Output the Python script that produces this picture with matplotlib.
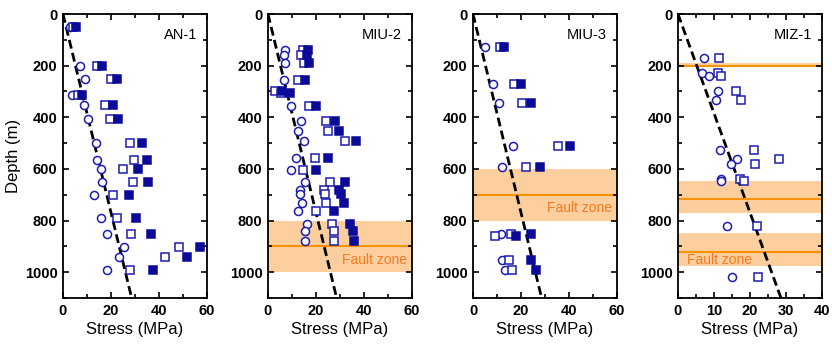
import numpy as np
import matplotlib.pyplot as plt
from matplotlib.ticker import MultipleLocator

plt.rcParams['font.family'] = ['Liberation Sans', 'DejaVu Sans']

nan = np.nan

# ---- AN-1 ----
an1_depth = [50, 200, 250, 312, 352, 405, 500, 564, 600, 652, 701, 792, 852, 901, 942, 992]
an1_circ = [2.8, 6.9, 9.3, 3.7, 8.9, 10.5, 13.7, 14.1, 15.8, 16.2, 13.0, 15.8, 18.3, 25.4, 23.4, 18.3]
an1_open = [4.2, 14.1, 19.9, 6.2, 17.6, 19.4, 27.9, 29.7, 25.2, 29.0, 21.0, 22.7, 28.4, 48.4, 42.6, 27.9]
an1_fill = [5.5, 16.2, 22.4, 7.9, 20.7, 23.1, 32.8, 34.9, 31.1, 35.5, 27.5, 30.4, 36.5, 57.0, 51.7, 37.3]

# ---- MIU-2 ----
miu2_depth = [139, 160, 188, 255, 298, 306, 358, 416, 452, 492, 557, 606, 652, 683, 698, 732, 762,
              812, 839, 879]
miu2_circ = [7.2, 6.7, 6.9, 6.7, nan, nan, 9.6, 13.6, 12.5, 15.0, 11.7, 9.7, 15.3, 13.2, 13.5,
             14.2, 12.4, 16.3, 15.3, 15.6]
miu2_open = [14.5, 13.7, 15.0, 12.5, 3.0, 5.5, 16.9, 24.2, 25.0, 32.2, 19.7, 14.4, 26.0, 23.2,
             23.9, 24.3, 20.1, 26.7, 27.4, 27.4]
miu2_fill = [16.8, 16.2, 17.2, 15.3, 6.0, 9.0, 20.1, 28.1, 29.4, 36.8, 25.0, 20.1, 31.9, 29.7,
             30.6, 31.5, 27.5, 34.3, 35.3, 35.8]

# ---- MIU-3 ----
miu3_depth = [126, 271, 343, 513, 594, 852, 861, 951, 992]
miu3_circ = [5.1, 8.3, 10.7, 16.5, 12.2, 11.8, nan, 12.1, 13.2]
miu3_open = [11.4, 17.2, 20.4, 35.3, 22.1, 16.0, 9.3, 14.9, 16.3]
miu3_fill = [12.8, 20.0, 24.2, 40.6, 27.8, 24.3, 17.9, 24.2, 26.1]

# ---- MIZ-1 ----
miz1_depth = [169, 227, 240, 298, 335, 526, 562, 580, 639, 648, 822, 1019]
miz1_circ = [7.2, 6.8, 8.5, 11.2, 10.5, 11.7, 16.5, 14.7, 12.0, 12.0, 13.6, 15.0]
miz1_open = [11.4, 11.1, 11.9, 16.0, 17.6, 21.2, 28.1, 21.3, 17.1, 18.4, 22.0, 22.3]
miz1_fill = [nan] * len(miz1_depth)

# fault zones: (top, bottom, fault depth)
miu2_faults = [(800, 1000, 900)]
miu3_faults = [(600, 800, 700)]
miz1_faults = [(191, 207, 201), (646, 772, 716), (848, 977, 923)]

names = ['AN-1', 'MIU-2', 'MIU-3', 'MIZ-1']
xmaxes = [60, 60, 60, 40]
sv_gradient = 0.026  # MPa per metre

navy = '#0b0b98'
edge = '#1c1cae'
band = '#fdcf9e'
fault_line = '#f59400'
fault_text = '#f57a22'

panels = [
    (an1_depth, an1_circ, an1_open, an1_fill, [], None),
    (miu2_depth, miu2_circ, miu2_open, miu2_fill, miu2_faults, 'right'),
    (miu3_depth, miu3_circ, miu3_open, miu3_fill, miu3_faults, 'right'),
    (miz1_depth, miz1_circ, miz1_open, miz1_fill, miz1_faults, 'left'),
]

fig = plt.figure(figsize=(8.32, 3.49), dpi=100)
lefts = [63, 268, 473, 678]
W, H = 832, 349

for i, (d, c, o, f, faults, tpos) in enumerate(panels):
    ax = fig.add_axes([lefts[i] / W, 1 - 298 / H, 144 / W, 284 / H])
    xmax = xmaxes[i]

    for top, bot, fd in faults:
        ax.axhspan(top, bot, color=band, lw=0, zorder=0)
        ax.axhline(fd, color=fault_line, lw=1.5, zorder=1)
    if faults:
        top, bot, fd = faults[-1]
        ty = (fd + bot) / 2 + 2
        if tpos == 'right':
            ax.text(xmax * 0.965, ty, 'Fault zone', color=fault_text, fontsize=10,
                    ha='right', va='center', zorder=2)
        else:
            ax.text(xmax * 0.06, ty, 'Fault zone', color=fault_text, fontsize=10,
                    ha='left', va='center', zorder=2)

    dd = np.array([0, 1100])
    ax.plot(sv_gradient * dd, dd, color='black', lw=2.0, ls=(0, (3.2, 1.6)), zorder=3)

    ax.plot(c, d, 'o', ms=5.8, mfc='white', mec=edge, mew=1.1, ls='none', zorder=4)
    ax.plot(o, d, 's', ms=5.8, mfc='white', mec=edge, mew=1.1, ls='none', zorder=5)
    ax.plot(f, d, 's', ms=5.8, mfc=navy, mec=navy, mew=1.1, ls='none', zorder=6)

    ax.set_xlim(0, xmax)
    ax.set_ylim(1100, 0)
    if xmax == 60:
        ax.xaxis.set_major_locator(MultipleLocator(20))
        ax.xaxis.set_minor_locator(MultipleLocator(10))
    else:
        ax.xaxis.set_major_locator(MultipleLocator(10))
        ax.xaxis.set_minor_locator(MultipleLocator(5))
    ax.yaxis.set_major_locator(MultipleLocator(200))
    ax.yaxis.set_minor_locator(MultipleLocator(100))
    ax.set_yticks([0, 200, 400, 600, 800, 1000])
    ax.tick_params(which='both', direction='in', top=True, right=True, width=1.2)
    ax.tick_params(which='major', length=4.5, labelsize=10.5, pad=4)
    ax.tick_params(which='minor', length=3)
    for lab in ax.get_xticklabels() + ax.get_yticklabels():
        lab.set_fontweight('bold')
    for sp in ax.spines.values():
        sp.set_linewidth(1.3)

    ax.set_xlabel('Stress (MPa)', fontsize=12, labelpad=3)
    if i == 0:
        ax.set_ylabel('Depth (m)', fontsize=12, labelpad=3)
    ax.text(0.93, 0.95, names[i], transform=ax.transAxes, ha='right', va='top',
            fontsize=10.5, zorder=7)

fig.savefig('out.png', dpi=100)
